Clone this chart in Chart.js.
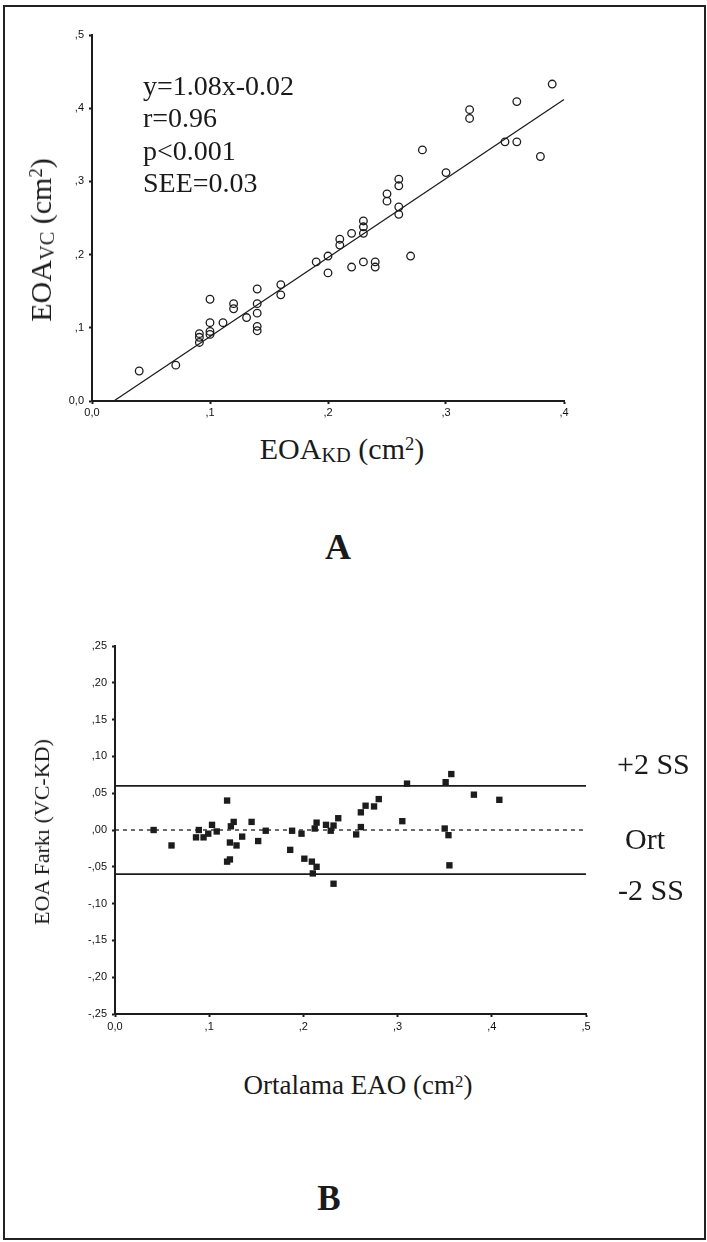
<!DOCTYPE html>
<html>
<head>
<meta charset="utf-8">
<script src="https://cdn.jsdelivr.net/npm/chart.js@4.4.1/dist/chart.umd.min.js"></script>
<style>
html,body{margin:0;padding:0;background:#fff;}
body{width:707px;height:1242px;position:relative;overflow:hidden;font-family:"Liberation Serif","Times New Roman",serif;color:#1a1a1a;}
.frame{position:absolute;left:3px;top:5px;width:699px;height:1231px;border:2px solid #222;}
canvas{position:absolute;left:0;}
.t{position:absolute;white-space:nowrap;line-height:1;}
.c{transform:translate(-50%,-50%);}
.l{transform:translateY(-50%);}
.r{transform:translate(-50%,-50%) rotate(-90deg);}
.sub{font-size:0.68em;position:relative;top:0.16em;}
.sup{font-size:0.62em;position:relative;top:-0.5em;}
</style>
</head>
<body>
<div class="frame"></div>
<canvas id="chartA" width="707" height="430" style="top:0;width:707px;height:430px"></canvas>
<canvas id="chartB" width="707" height="460" style="top:600px;width:707px;height:460px"></canvas>

<div class="t l" style="left:143px;top:86px;font-size:28px">y=1.08x-0.02</div>
<div class="t l" style="left:143px;top:118px;font-size:28px">r=0.96</div>
<div class="t l" style="left:143px;top:151px;font-size:28px">p&lt;0.001</div>
<div class="t l" style="left:143px;top:183px;font-size:28px">SEE=0.03</div>

<div class="t r" style="left:41px;top:240px;font-size:30px">EOA<span class="sub">VC</span> (cm<span class="sup">2</span>)</div>
<div class="t c" style="left:342px;top:449px;font-size:30px">EOA<span class="sub">KD</span> (cm<span class="sup">2</span>)</div>
<div class="t c" style="left:338px;top:547px;font-size:36px;font-weight:bold">A</div>

<div class="t r" style="left:42px;top:832px;font-size:22px">EOA Farkı (VC-KD)</div>
<div class="t l" style="left:617px;top:764px;font-size:30px">+2 SS</div>
<div class="t l" style="left:625px;top:839px;font-size:30px">Ort</div>
<div class="t l" style="left:618px;top:890px;font-size:30px">-2 SS</div>
<div class="t c" style="left:358px;top:1085px;font-size:27px">Ortalama EAO (cm<span class="sup" style="top:-0.4em">2</span>)</div>
<div class="t c" style="left:329px;top:1198px;font-size:35px;font-weight:bold">B</div>

<script>
// ---- Chart A: EOA_KD vs EOA_VC ----
const kdA = [0.040,0.071,0.091,0.091,0.091,0.100,0.100,0.100,0.100,0.111,0.120,0.120,0.131,0.140,0.140,0.140,0.140,0.140,0.160,0.160,0.190,0.200,0.200,0.210,0.210,0.220,0.220,0.230,0.230,0.230,0.230,0.240,0.240,0.250,0.250,0.260,0.260,0.260,0.260,0.270,0.280,0.300,0.320,0.320,0.350,0.360,0.360,0.380,0.390];
const vcA = [0.041,0.049,0.092,0.087,0.080,0.139,0.107,0.095,0.091,0.107,0.133,0.126,0.114,0.153,0.133,0.120,0.102,0.096,0.159,0.145,0.190,0.198,0.175,0.221,0.213,0.229,0.183,0.246,0.238,0.229,0.190,0.190,0.183,0.283,0.273,0.303,0.294,0.265,0.255,0.198,0.343,0.312,0.398,0.386,0.354,0.409,0.354,0.334,0.433];
const regLineX = [0.0185, 0.400];
const regLineY = [0.000, 0.412];
const xTicksA = ['0,0', ',1', ',2', ',3', ',4'];
const yTicksA = ['0,0', ',1', ',2', ',3', ',4', ',5'];

// ---- Chart B: Bland-Altman ----
const meanB = [0.041,0.060,0.086,0.089,0.094,0.099,0.103,0.108,0.119,0.119,0.122,0.122,0.123,0.126,0.129,0.135,0.145,0.152,0.160,0.186,0.188,0.198,0.201,0.209,0.210,0.212,0.214,0.214,0.224,0.229,0.232,0.232,0.237,0.256,0.261,0.261,0.266,0.275,0.280,0.305,0.310,0.350,0.354,0.355,0.351,0.357,0.381,0.408];
const diffB = [0.000,-0.021,-0.010,0.000,-0.010,-0.005,0.007,-0.002,0.040,-0.043,-0.040,-0.017,0.005,0.011,-0.021,-0.009,0.011,-0.015,-0.001,-0.027,-0.001,-0.005,-0.039,-0.043,-0.059,0.002,-0.050,0.010,0.007,-0.001,0.006,-0.073,0.016,-0.006,0.004,0.024,0.033,0.032,0.042,0.012,0.063,0.002,-0.007,-0.048,0.065,0.076,0.048,0.041];
const limitX = [0, 0.5];
const upperSS = [0.06, 0.06];
const meanOrt = [0.0, 0.0];
const lowerSS = [-0.06, -0.06];
const xTicksB = ['0,0', ',1', ',2', ',3', ',4', ',5'];
const yTicksB = ['-,25', '-,20', '-,15', '-,10', '-,05', ',00', ',05', ',10', ',15', ',20', ',25'];

const INK = '#1c1c1c';
function pts(xs, ys){ return xs.map((x,i)=>({x:x, y:ys[i]})); }
function axis(min, max, step, labels, isY, fixed, pad){
  return {
    type:'linear', min:min, max:max,
    ticks:{stepSize:step, autoSkip:false, maxRotation:0, color:'#111', padding:pad,
      font:{family:'Liberation Sans', size:11},
      callback:(v)=>labels[Math.round((v-min)/step)]},
    grid:{display:true, drawOnChartArea:false, drawTicks:true, tickLength:3, tickWidth:2, tickColor:INK},
    border:{display:true, color:INK, width:2},
    afterFit(s){ if(isY) s.width = fixed; else s.height = fixed; }
  };
}
const common = {responsive:false, animation:false, events:[],
  plugins:{legend:{display:false}, tooltip:{enabled:false}}};

new Chart(document.getElementById('chartA'), {
  type:'scatter',
  data:{datasets:[
    {data:pts(kdA, vcA), pointStyle:'circle', pointRadius:3.8, borderWidth:1.3,
     borderColor:INK, backgroundColor:'rgba(255,255,255,0)', clip:false},
    {type:'line', data:pts(regLineX, regLineY), borderColor:INK, borderWidth:1.3,
     pointRadius:0, fill:false, clip:false}
  ]},
  options:Object.assign({}, common, {
    layout:{padding:{top:35, right:143, left:0, bottom:0}},
    scales:{
      x:axis(0, 0.4, 0.1, xTicksA, false, 29, 2),
      y:axis(0, 0.5, 0.1, yTicksA, true, 92, 5)
    }
  })
});

new Chart(document.getElementById('chartB'), {
  type:'scatter',
  data:{datasets:[
    {data:pts(meanB, diffB), pointStyle:'rect', pointRadius:4.5, borderWidth:0,
     backgroundColor:INK, clip:false},
    {type:'line', data:pts(limitX, upperSS), borderColor:INK, borderWidth:1.6, pointRadius:0, fill:false},
    {type:'line', data:pts(limitX, meanOrt), borderColor:INK, borderWidth:1.3, borderDash:[4,4], pointRadius:0, fill:false},
    {type:'line', data:pts(limitX, lowerSS), borderColor:INK, borderWidth:1.6, pointRadius:0, fill:false}
  ]},
  options:Object.assign({}, common, {
    layout:{padding:{top:46, right:121, left:0, bottom:0}},
    scales:{
      x:axis(0, 0.5, 0.1, xTicksB, false, 46, 3),
      y:axis(-0.25, 0.25, 0.05, yTicksB, true, 115, 5)
    }
  })
});
</script>
</body>
</html>
